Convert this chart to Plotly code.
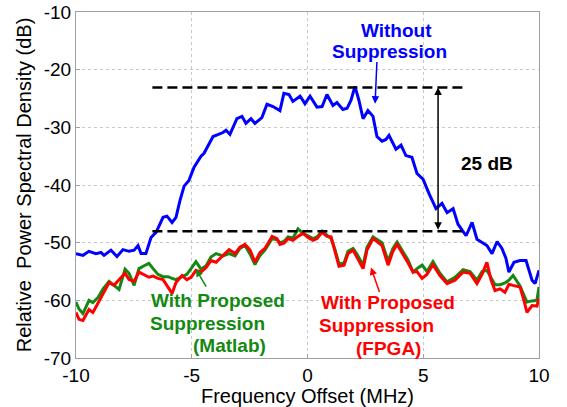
import plotly.graph_objects as go

# ---- data ----
blue_f = [-10.00,-9.70,-9.44,-9.14,-8.92,-8.79,-8.49,-8.23,-7.97,-7.71,
          -7.49,-7.32,-7.19,-6.98,-6.76,-6.54,-6.24,-6.07,-5.85,-5.68,
          -5.51,-5.33,-5.12,-4.90,-4.60,-4.47,-4.08,-3.65,-3.52,-3.35,
          -3.05,-2.83,-2.66,-2.44,-2.27,-1.97,-1.75,-1.49,-1.19,-1.02,
          -0.80,-0.63,-0.32,-0.11,0.11,0.41,0.63,0.84,1.10,1.27,
          1.53,1.71,1.88,2.05,2.22,2.40,2.61,2.83,3.00,3.22,
          3.39,3.52,3.82,4.04,4.25,4.51,4.73,4.99,5.25,5.55,
          5.81,6.03,6.29,6.50,6.85,7.11,7.32,7.58,7.75,7.97,
          8.19,8.40,8.57,8.70,8.92,9.18,9.44,9.70,9.83,10.00]
blue_db = [-51.9,-52.2,-51.5,-51.9,-51.7,-52.2,-51.3,-52.4,-51.2,-51.5,
           -51.3,-50.5,-51.9,-51.9,-49.1,-48.2,-45.6,-45.4,-46.5,-45.6,
           -42.7,-40.2,-39.2,-36.9,-35.0,-34.5,-31.6,-30.9,-30.5,-31.2,
           -28.5,-28.1,-29.3,-28.5,-29.3,-28.3,-26.0,-26.4,-27.1,-24.1,
           -24.3,-25.5,-24.6,-25.9,-24.6,-26.5,-26.4,-24.3,-26.2,-25.7,
           -26.9,-26.7,-25.3,-22.9,-25.3,-28.5,-27.1,-28.1,-31.6,-32.4,
           -32.1,-31.4,-33.8,-33.1,-34.9,-35.2,-38.0,-39.0,-41.5,-44.1,
           -43.2,-44.8,-44.1,-46.8,-48.8,-46.5,-49.4,-50.1,-50.5,-51.9,
           -49.8,-51.0,-52.7,-55.1,-53.4,-53.1,-53.1,-56.5,-57.1,-54.8]

sup_f = [-10.00,-9.87,-9.70,-9.44,-9.27,-9.05,-8.83,-8.57,-8.36,-8.14,
         -7.88,-7.71,-7.49,-7.28,-7.06,-6.85,-6.67,-6.46,-6.24,-6.03,
         -5.85,-5.68,-5.42,-5.21,-5.03,-4.82,-4.60,-4.38,-4.17,-3.95,
         -3.65,-3.39,-3.13,-2.92,-2.70,-2.48,-2.27,-2.05,-1.84,-1.53,
         -1.32,-1.19,-1.02,-0.84,-0.63,-0.41,-0.19,0.02,0.24,0.41,
         0.63,0.84,1.02,1.19,1.36,1.58,1.75,1.97,2.14,2.40,
         2.57,2.83,3.00,3.22,3.48,3.69,3.87,4.13,4.34,4.56,
         4.73,4.95,5.16,5.42,5.72,6.03,6.37,6.72,7.02,7.32,
         7.54,7.75,7.93,8.10,8.32,8.53,8.70,8.88,9.18,9.35,
         9.48,9.70,9.91,10.00]
fpga_db = [-62.1,-63.3,-63.5,-61.6,-62.1,-60.4,-58.8,-56.9,-57.4,-56.5,
           -55.3,-56.4,-56.7,-55.1,-55.5,-56.0,-55.8,-56.2,-56.4,-57.7,
           -58.8,-56.9,-55.7,-56.4,-56.0,-54.8,-55.1,-54.3,-53.1,-53.4,
           -52.2,-51.2,-51.9,-50.8,-50.3,-51.3,-53.4,-51.7,-51.0,-48.9,
           -49.3,-50.3,-50.1,-49.3,-49.6,-48.9,-48.4,-49.1,-49.6,-49.3,
           -48.2,-48.9,-49.0,-51.7,-54.1,-53.9,-51.9,-51.3,-52.5,-54.5,
           -51.3,-49.3,-49.8,-50.5,-53.9,-51.5,-50.3,-52.0,-53.5,-55.1,
           -55.0,-56.2,-55.5,-53.8,-55.7,-57.1,-56.5,-55.1,-55.3,-57.1,
           -55.5,-53.4,-56.5,-58.3,-58.0,-58.6,-57.2,-57.4,-57.7,-60.0,
           -62.1,-60.9,-61.0,-59.6]
matlab_db = [-60.3,-61.5,-62.3,-60.0,-60.4,-59.5,-58.0,-56.7,-57.4,-58.1,
             -54.6,-55.3,-57.4,-54.5,-54.0,-53.6,-54.5,-55.5,-55.9,-55.9,
             -56.2,-56.4,-55.9,-55.5,-54.5,-53.3,-54.6,-54.0,-52.5,-51.9,
             -52.3,-51.9,-52.3,-51.0,-50.5,-52.0,-53.8,-52.2,-51.3,-49.3,
             -49.5,-50.0,-49.8,-49.0,-49.2,-47.6,-48.4,-48.9,-49.3,-49.0,
             -48.0,-48.7,-49.3,-51.2,-53.7,-53.5,-51.5,-51.0,-52.0,-53.9,
             -50.8,-49.0,-49.5,-50.0,-53.2,-51.0,-49.9,-51.5,-53.0,-55.1,
             -54.5,-53.9,-55.0,-53.3,-55.3,-56.8,-56.0,-54.7,-55.0,-56.5,
             -55.0,-54.8,-56.0,-57.3,-57.3,-57.0,-56.5,-55.7,-57.5,-59.0,
             -60.3,-60.1,-60.0,-57.7]

ref_f = [-6.7, 6.7]
top_level = [-23.1, -23.1]
bottom_level = [-48.0, -48.0]

x_ticks = [-10, -5, 0, 5, 10]
x_tick_text = ["-10", "-5", "0", "5", "10"]
y_ticks = [-10, -20, -30, -40, -50, -60, -70]
y_tick_text = ["-10", "-20", "-30", "-40", "-50", "-60", "-70"]

BLUE = "#0000ff"
RED = "#ff0000"
GREEN = "#128a12"
FONT = "Liberation Sans, Arial, sans-serif"

fig = go.Figure()
fig.add_trace(go.Scatter(x=sup_f, y=matlab_db, mode="lines",
                         line=dict(color=GREEN, width=3), showlegend=False))
fig.add_trace(go.Scatter(x=sup_f, y=fpga_db, mode="lines",
                         line=dict(color=RED, width=3), showlegend=False))
fig.add_trace(go.Scatter(x=blue_f, y=blue_db, mode="lines",
                         line=dict(color=BLUE, width=3), showlegend=False))
fig.add_trace(go.Scatter(x=ref_f, y=top_level, mode="lines",
                         line=dict(color="black", width=2.5, dash="10px,5px"), showlegend=False))
fig.add_trace(go.Scatter(x=ref_f, y=bottom_level, mode="lines",
                         line=dict(color="black", width=2.5, dash="10px,5px"), showlegend=False))

def txt(x, y, s, color, size=19):
    fig.add_annotation(x=x, y=y, xref="x", yref="y", text="<b>%s</b>" % s,
                       showarrow=False, font=dict(family=FONT, size=size, color=color),
                       xanchor="center", yanchor="middle")

def arrow(x0, y0, x1, y1, color, side="end"):
    fig.add_annotation(x=x1, y=y1, ax=x0, ay=y0, xref="x", yref="y",
                       axref="x", ayref="y", text="", showarrow=True,
                       arrowhead=2, arrowsize=1, arrowwidth=1.5, arrowcolor=color,
                       arrowside=side, standoff=0, startstandoff=0)

txt(3.85, -13.2, "Without", BLUE)
txt(3.56, -16.9, "Suppression", BLUE)
arrow(3.00, -18.4, 2.92, -25.9, BLUE)

txt(7.75, -36.3, "25 dB", "black")
arrow(5.64, -48.0, 5.64, -23.1, "black", side="end+start")

txt(-3.87, -60.0, "With Proposed", GREEN)
txt(-4.32, -64.0, "Suppression", GREEN)
txt(-3.37, -67.8, "(Matlab)", GREEN)
arrow(-4.34, -57.9, -4.82, -54.6, GREEN)

txt(3.46, -60.4, "With Proposed", RED)
txt(2.98, -64.4, "Suppression", RED)
txt(3.50, -68.3, "(FPGA)", RED)
arrow(3.13, -58.8, 2.74, -54.3, RED)

axis_common = dict(showgrid=True, gridcolor="#c8c8c8", griddash="dot", gridwidth=1,
                   showline=True, linecolor="#a0a0a0", linewidth=1, mirror=True,
                   ticks="inside", ticklen=4, tickcolor="#a0a0a0", zeroline=False,
                   tickfont=dict(family=FONT, size=19, color="black"))

fig.update_xaxes(range=[-10, 10], tickvals=x_ticks, ticktext=x_tick_text,
                 title=dict(text="Frequency Offset (MHz)", standoff=4,
                            font=dict(family=FONT, size=20, color="black")),
                 **axis_common)
fig.update_yaxes(range=[-70, -10], tickvals=y_ticks, ticktext=y_tick_text,
                 title=dict(text="Relative  Power Spectral Density (dB)", standoff=6,
                            font=dict(family=FONT, size=20, color="black")),
                 **axis_common)

fig.update_layout(width=567, height=407, margin=dict(l=76, r=28, t=12, b=49, autoexpand=False),
                  paper_bgcolor="white", plot_bgcolor="white",
                  font=dict(family=FONT, color="black"))

fig.write_html("out.html", config={"displayModeBar": False},
               post_script="document.body.style.margin='0';document.body.style.padding='0';")
